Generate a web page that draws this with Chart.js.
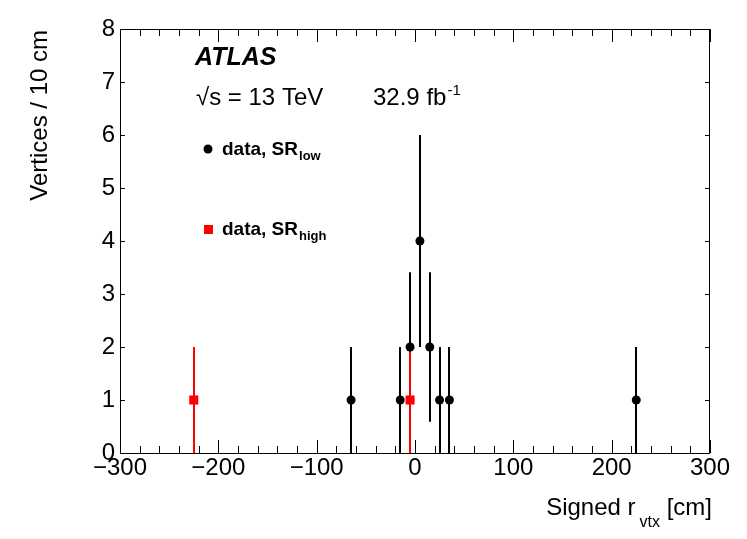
<!DOCTYPE html>
<html>
<head>
<meta charset="utf-8">
<script src="https://cdn.jsdelivr.net/npm/chart.js@4"></script>
<style>html,body{margin:0;padding:0;background:#fff}</style>
</head>
<body>
<canvas id="chart" width="747" height="539"></canvas>
<script>
// SR_low data (black dots)
const lowX = [-65, -15, -5, 5, 15, 25, 35, 225];
const lowY = [1, 1, 2, 4, 2, 1, 1, 1];
const lowErr = [1, 1, 1.41, 2, 1.41, 1, 1, 1];

// SR_high data (red squares)
const highX = [-225, -5];
const highY = [1, 1];
const highErr = [1, 1];

const xMin = -300, xMax = 300, xStep = 100, xMinorStep = 20;
const yMin = 0, yMax = 8;

const FONT = '"Liberation Sans", Arial, Helvetica, sans-serif';

function toPoints(xs, ys) {
    return xs.map((x, i) => ({ x: x, y: ys[i] }));
}

// vertical error bars, drawn under the markers
const errorBars = {
    id: 'errorBars',
    beforeDatasetsDraw(chart) {
        const ctx = chart.ctx;
        const xs = chart.scales.x, ys = chart.scales.y;
        ctx.save();
        chart.data.datasets.forEach(ds => {
            ctx.strokeStyle = ds.borderColor;
            ctx.lineWidth = 2;
            ds.data.forEach((p, i) => {
                const e = ds.errors[i];
                const px = Math.round(xs.getPixelForValue(p.x));
                ctx.beginPath();
                ctx.moveTo(px, ys.getPixelForValue(Math.max(p.y - e, yMin)));
                ctx.lineTo(px, ys.getPixelForValue(p.y + e));
                ctx.stroke();
            });
        });
        ctx.restore();
    }
};

// ROOT style frame, inside ticks and all the text
const decorations = {
    id: 'decorations',
    afterDraw(chart) {
        const ctx = chart.ctx;
        const a = chart.chartArea;
        const xs = chart.scales.x, ys = chart.scales.y;
        ctx.save();
        ctx.strokeStyle = '#000';
        ctx.lineWidth = 1;
        ctx.strokeRect(a.left + 0.5, a.top + 0.5, a.right - a.left - 1, a.bottom - a.top);

        ctx.beginPath();
        for (let v = xMin; v <= xMax; v += xMinorStep) {
            const px = Math.round(xs.getPixelForValue(v)) + 0.5;
            const len = (v % xStep === 0) ? 13 : 7;
            ctx.moveTo(px, a.bottom);
            ctx.lineTo(px, a.bottom - len);
            ctx.moveTo(px, a.top);
            ctx.lineTo(px, a.top + len);
        }
        for (let v = yMin; v <= yMax; v++) {
            const py = Math.round(ys.getPixelForValue(v)) + 0.5;
            ctx.moveTo(a.left, py);
            ctx.lineTo(a.left + 5, py);
            ctx.moveTo(a.right, py);
            ctx.lineTo(a.right - 5, py);
        }
        ctx.stroke();

        ctx.fillStyle = '#000';
        ctx.textBaseline = 'alphabetic';
        ctx.textAlign = 'left';

        // ATLAS label
        ctx.font = 'italic bold 25px ' + FONT;
        ctx.fillText('ATLAS', 195, 65);
        ctx.font = '24px ' + FONT;
        ctx.fillText('\u221As = 13 TeV', 196, 105);
        ctx.fillText('32.9 fb', 373, 105);
        const fbw = ctx.measureText('32.9 fb').width;
        ctx.font = '15px ' + FONT;
        ctx.fillText('-1', 373 + fbw + 1, 95);

        // legend
        ctx.beginPath();
        ctx.arc(208, 149, 4.5, 0, Math.PI * 2);
        ctx.fill();
        ctx.fillStyle = '#ff0000';
        ctx.fillRect(204, 225, 9, 9);
        ctx.fillStyle = '#000';
        [['low', 155], ['high', 235]].forEach(([sub, base]) => {
            ctx.font = 'bold 19px ' + FONT;
            ctx.fillText('data, SR', 222, base);
            const w = ctx.measureText('data, SR').width;
            ctx.font = 'bold 13px ' + FONT;
            ctx.fillText(sub, 222 + w + 1, base + 5);
        });

        // x axis title, right aligned to the frame
        ctx.font = '24px ' + FONT;
        const w1 = ctx.measureText('Signed r').width;
        const w3 = ctx.measureText(' [cm]').width;
        ctx.font = '16px ' + FONT;
        const w2 = ctx.measureText('vtx').width;
        let tx = a.right + 2 - (w1 + 4 + w2 + w3);
        ctx.font = '24px ' + FONT;
        ctx.fillText('Signed r', tx, 515);
        ctx.font = '16px ' + FONT;
        ctx.fillText('vtx', tx + w1 + 4, 527);
        ctx.font = '24px ' + FONT;
        ctx.fillText(' [cm]', tx + w1 + 4 + w2, 515);

        // y axis title
        ctx.translate(47, a.top + 1);
        ctx.rotate(-Math.PI / 2);
        ctx.textAlign = 'right';
        ctx.fillText('Vertices / 10 cm', 0, 0);
        ctx.restore();
    }
};

new Chart(document.getElementById('chart'), {
    type: 'scatter',
    data: {
        datasets: [{
            label: 'data, SR_low',
            data: toPoints(lowX, lowY),
            errors: lowErr,
            borderColor: '#000000',
            backgroundColor: '#000000',
            pointStyle: 'circle',
            pointRadius: 4.5,
            pointBorderWidth: 0
        }, {
            label: 'data, SR_high',
            data: toPoints(highX, highY),
            errors: highErr,
            borderColor: '#ff0000',
            backgroundColor: '#ff0000',
            pointStyle: 'rect',
            pointRadius: 6.4,
            pointBorderWidth: 0
        }]
    },
    options: {
        responsive: false,
        animation: false,
        events: [],
        layout: { padding: { top: 29, right: 37, left: 0, bottom: 0 } },
        plugins: {
            legend: { display: false },
            tooltip: { enabled: false }
        },
        scales: {
            x: {
                type: 'linear',
                min: xMin,
                max: xMax,
                grid: { display: false, drawTicks: false },
                border: { display: false },
                ticks: {
                    stepSize: xStep,
                    autoSkip: false,
                    maxRotation: 0,
                    padding: 1,
                    color: '#000',
                    font: { family: FONT, size: 24 },
                    callback: v => (v < 0 ? '\u2212' + Math.abs(v) : String(v))
                },
                afterFit: scale => { scale.height = 86; }
            },
            y: {
                min: yMin,
                max: yMax,
                grid: { display: false, drawTicks: false },
                border: { display: false },
                ticks: {
                    stepSize: 1,
                    autoSkip: false,
                    padding: 5,
                    color: '#000',
                    font: { family: FONT, size: 24 }
                },
                afterFit: scale => { scale.width = 120; }
            }
        }
    },
    plugins: [errorBars, decorations]
});
</script>
</body>
</html>
